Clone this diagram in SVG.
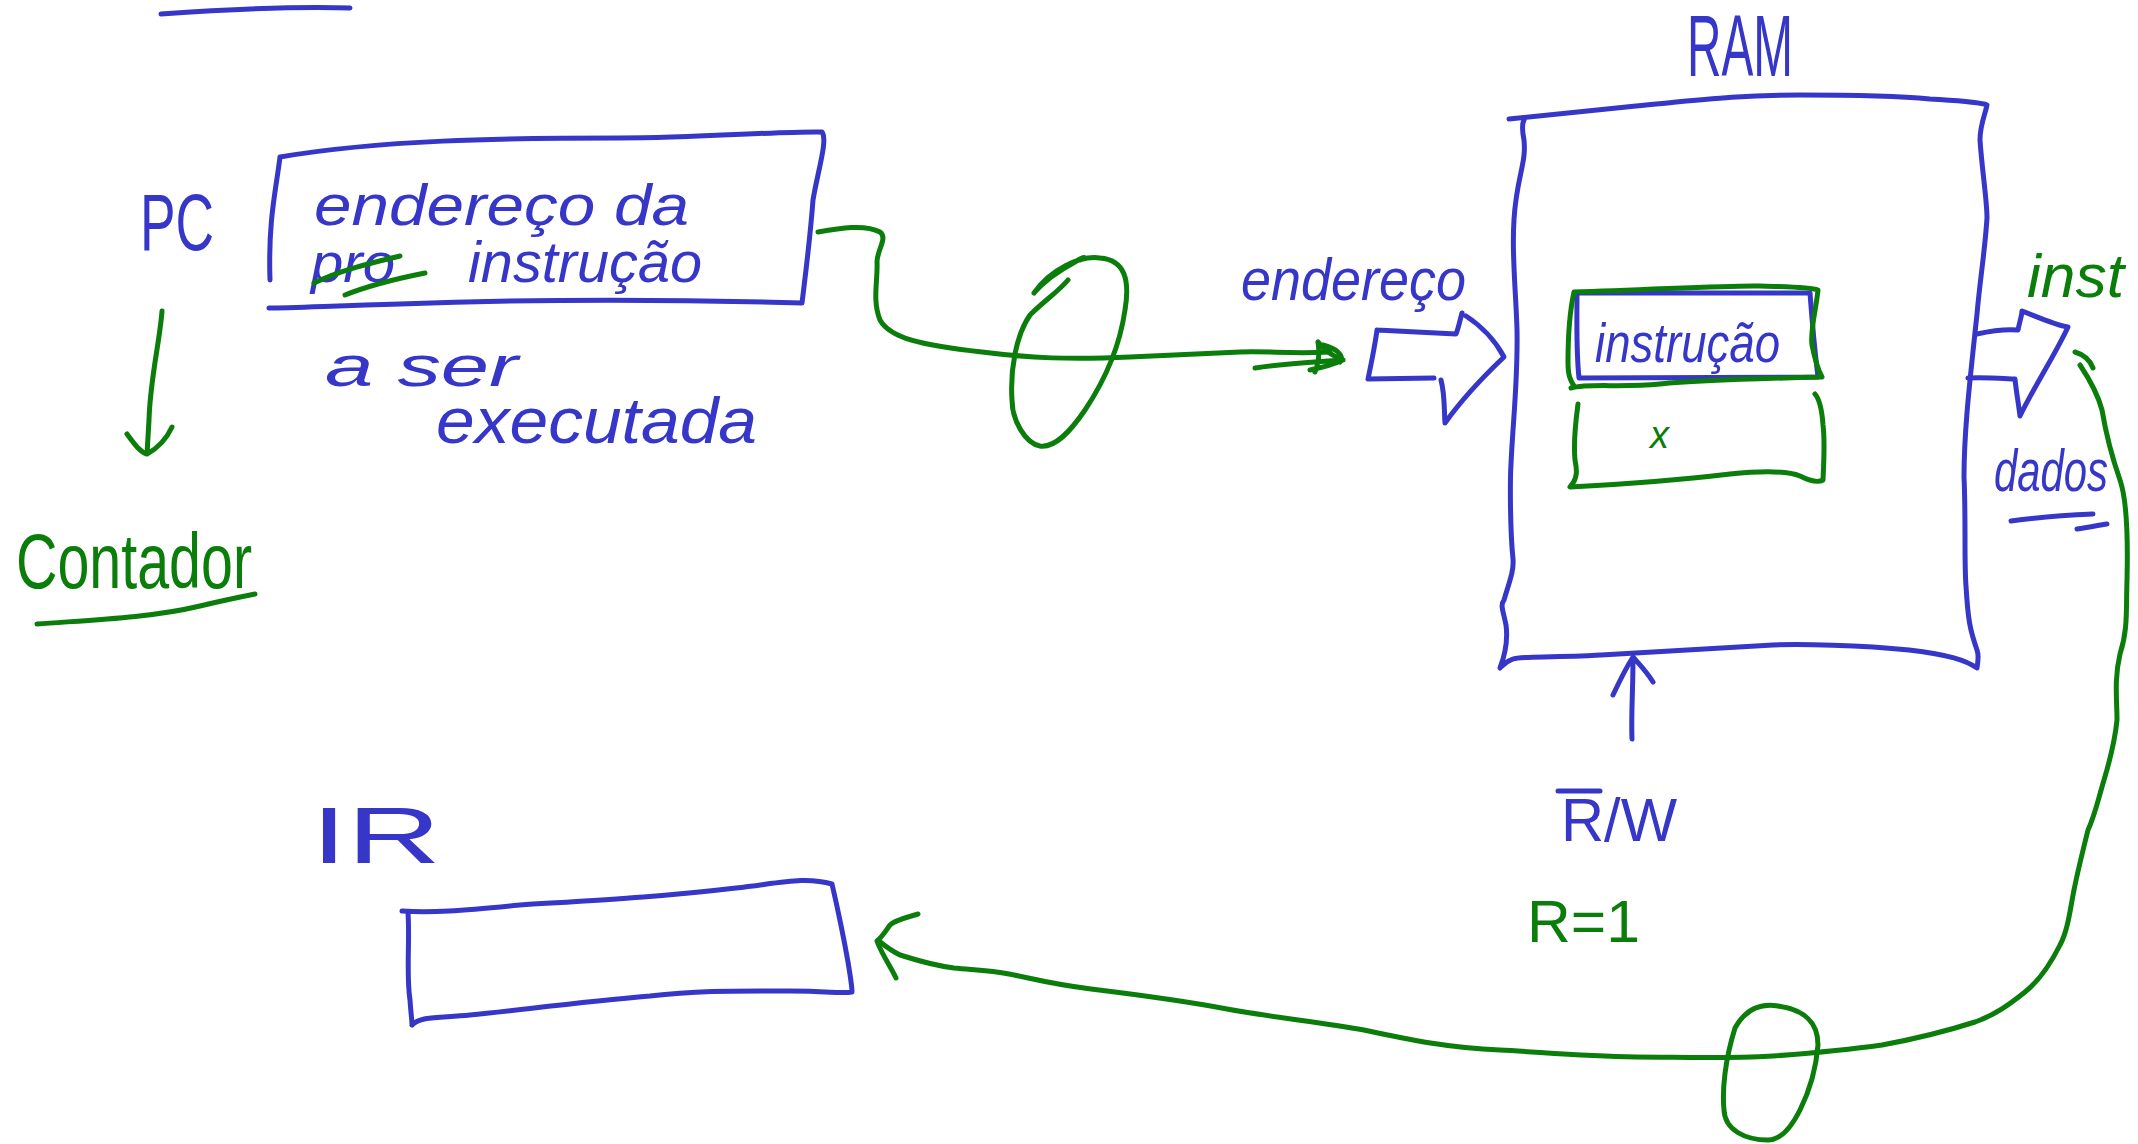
<svg xmlns="http://www.w3.org/2000/svg" width="2138" height="1144" viewBox="0 0 2138 1144">
<style>
.b{fill:none;stroke:#3636c8;stroke-width:5;stroke-linecap:round;stroke-linejoin:round}
.g{fill:none;stroke:#0a7d0a;stroke-width:5;stroke-linecap:round;stroke-linejoin:round}
.tb{fill:#3636c8;font-family:"Liberation Sans",Arial,sans-serif}
.tg{fill:#0a7d0a;font-family:"Liberation Sans",Arial,sans-serif}
</style>
<rect width="2138" height="1144" fill="#fff"/>
<path class="b" d="M161,14 C220,10 300,6 350,8"/>

<g id="pc">
<text class="tb" x="140" y="250" font-size="80" textLength="74" lengthAdjust="spacingAndGlyphs">PC</text>
<path class="b" d="M280,157 C380,140 500,138 620,138 C700,138 780,131 822,132 C828,140 818,170 813,200 C810,240 806,270 802,303 C700,300 560,298 400,304 C330,306 290,308 269,308 M280,157 C276,190 268,220 270,280"/>
<text class="tb" x="314" y="225" font-size="58" font-style="italic" textLength="375" lengthAdjust="spacingAndGlyphs">endereço da</text>
<text class="tb" x="311" y="282" font-size="55" font-style="italic" textLength="84" lengthAdjust="spacingAndGlyphs">pro</text>
<path class="g" d="M314,283 C340,270 375,262 400,256 M345,295 C370,285 400,278 425,273"/>
<text class="tb" x="468" y="282" font-size="58" font-style="italic" textLength="234" lengthAdjust="spacingAndGlyphs">instrução</text>
<text class="tb" x="325" y="386" font-size="58" font-style="italic" textLength="193" lengthAdjust="spacingAndGlyphs">a ser</text>
<text class="tb" x="436" y="443" font-size="64" font-style="italic" textLength="321" lengthAdjust="spacingAndGlyphs">executada</text>
</g>

<g id="contador">
<text class="tg" x="16" y="588" font-size="78" textLength="236" lengthAdjust="spacingAndGlyphs">Contador</text>
<path class="g" d="M37,624 C90,620 150,618 200,606 C225,600 245,596 255,594"/>
</g>

<g id="ram">
<text class="tb" x="1687" y="76" font-size="88" textLength="106" lengthAdjust="spacingAndGlyphs">RAM</text>
<path class="b" d="M1509,119 C1560,114 1600,110 1636,106 C1700,100 1740,95 1800,95 C1860,95 1909,97 1930,99 C1960,101 1980,102 1987,105 C1985,115 1980,125 1980,140 C1982,170 1987,200 1987,218 C1985,250 1980,280 1977,314 C1970,380 1964,430 1964,477 C1966,520 1964,560 1966,586 C1968,620 1970,630 1977,650 C1979,655 1978,662 1977,668 C1965,660 1950,655 1909,650 C1860,645 1800,644 1773,645 C1720,648 1660,652 1600,655 C1550,658 1520,656 1513,659 C1505,662 1502,666 1500,668 C1505,655 1508,640 1506,625 C1503,610 1500,605 1504,600 C1510,580 1514,570 1513,559 C1510,530 1510,480 1511,464 C1513,420 1518,380 1517,330 C1516,290 1510,240 1516,200 C1520,170 1526,160 1524,140 C1521,125 1523,122 1524,120"/>
<path class="b" d="M1577,293 L1810,293 M1577,293 C1577,320 1576,350 1579,378 L1818,377 M1810,293 C1812,320 1814,345 1818,377"/>
<path class="g" d="M1574,292 C1650,290 1730,285 1760,286 C1790,287 1810,287 1818,290 C1816,310 1810,330 1812,345 C1815,360 1818,370 1822,377 C1780,378 1700,380 1660,384 C1620,388 1590,383 1571,388 M1574,292 C1570,310 1568,340 1568,362 C1568,375 1570,380 1574,386"/>
<text class="tb" x="1595" y="362" font-size="55" font-style="italic" textLength="185" lengthAdjust="spacingAndGlyphs">instrução</text>
<path class="g" d="M1578,404 C1576,420 1573,440 1575,460 C1577,470 1578,478 1570,487 C1630,484 1680,480 1730,474 C1770,470 1790,472 1800,476 C1810,481 1818,483 1823,480 C1824,460 1825,440 1823,425 C1822,410 1820,400 1815,394"/>
<text class="tg" x="1650" y="448" font-size="38" font-style="italic">x</text>
</g>

<g id="addr-label">
<text class="tb" x="1241" y="300" font-size="60" font-style="italic" textLength="225" lengthAdjust="spacingAndGlyphs">endereço</text>
<path class="b" d="M1377,330 C1375,345 1372,360 1368,379 L1434,378 M1441,380 C1445,395 1444,410 1445,423 C1465,395 1485,375 1504,357 C1495,340 1480,325 1466,316 M1462,313 C1460,320 1458,330 1456,334 L1377,330"/>
</g>

<g id="out-label">
<text class="tg" x="2027" y="297" font-size="62" font-style="italic" textLength="97" lengthAdjust="spacingAndGlyphs">inst</text>
<path class="b" d="M1977,334 C1995,330 2005,329 2018,330 C2020,320 2022,315 2022,311 C2040,318 2055,325 2068,327 C2055,355 2035,385 2020,416 C2018,400 2016,390 2015,379 M2015,379 C1995,378 1980,377 1968,378"/>
<text class="tb" x="1994" y="491" font-size="60" font-style="italic" textLength="114" lengthAdjust="spacingAndGlyphs">dados</text>
<path class="b" d="M2011,521 C2040,517 2070,515 2093,514 M2077,529 C2090,527 2100,525 2107,524"/>
</g>

<g id="rw">
<text class="tb" x="1561" y="841" font-size="62" textLength="116" lengthAdjust="spacingAndGlyphs">R/W</text>
<path class="b" d="M1558,791 L1600,791"/>
<text class="tg" x="1527" y="942" font-size="60" textLength="113" lengthAdjust="spacingAndGlyphs">R=1</text>
</g>

<g id="ir">
<text class="tb" x="311" y="863" font-size="80" textLength="130" lengthAdjust="spacingAndGlyphs">IR</text>
<path class="b" d="M402,911 C430,913 460,911 520,905 C600,900 660,897 736,888 C780,883 805,876 832,884 C838,910 845,945 848,962 C851,980 852,988 852,992 C840,994 830,991 790,991 C740,991 700,990 650,996 C580,1002 520,1010 470,1015 C440,1018 420,1016 412,1025 M408,913 C410,940 406,975 410,1000 C411,1015 412,1020 412,1025"/>
</g>

<g id="connectors">
<path class="g" d="M162,311 C160,340 150,380 149,420 L147,454 M127,434 C135,445 140,452 147,454 C158,448 166,440 172,427"/>
<path class="g" d="M818,232 C840,228 865,224 880,232 C888,238 877,250 877,262 C878,280 872,300 880,320 C890,338 920,345 982,352 C1030,358 1070,360 1130,357 C1170,355 1200,354 1240,352 C1270,351 1290,354 1330,352"/>
<path class="g" d="M1255,368 C1280,364 1310,362 1343,360 M1318,342 C1325,350 1330,355 1343,360 C1330,366 1320,368 1310,370 M1318,342 C1320,355 1318,365 1315,372 M1323,345 C1335,348 1345,355 1340,362"/>
<path class="g" d="M1034,293 C1045,280 1060,270 1075,262 C1080,258 1090,255 1080,260 M1034,293 C1050,270 1080,255 1100,258 C1125,260 1130,280 1125,310 C1120,345 1105,380 1085,410 C1070,432 1055,448 1040,446 C1025,443 1012,420 1012,400 C1010,370 1016,335 1030,315 C1045,300 1058,292 1068,280"/>
<path class="b" d="M1632,739 C1631,715 1633,690 1633,660 M1613,695 C1620,680 1626,668 1633,657 C1640,665 1647,672 1653,682"/>
<path class="g" d="M2075,352 C2085,355 2090,360 2093,368 M2080,365 C2090,380 2098,395 2102,410 C2107,440 2113,460 2120,480 C2127,500 2128,540 2127,580 C2126,610 2128,630 2120,654 C2114,680 2117,700 2117,720 C2115,740 2110,760 2104,780 C2098,800 2095,815 2088,830 C2083,850 2078,870 2074,890 C2070,910 2068,930 2060,945 C2050,965 2040,980 2025,992 C2010,1004 1995,1015 1975,1022 C1950,1030 1920,1038 1882,1045 C1840,1051 1800,1054 1773,1056 C1720,1059 1680,1057 1636,1057 C1580,1056 1540,1052 1500,1050 C1450,1048 1410,1040 1364,1030 C1320,1022 1270,1017 1227,1009 C1180,1000 1140,995 1091,989 C1050,984 1030,978 1009,974 C990,970 975,970 954,968 C930,965 910,958 900,955 C890,950 884,945 879,941 M918,914 C905,918 895,920 890,925 C885,932 882,937 877,941 C882,955 890,965 896,978"/>
<path class="g" d="M1735,1028 C1745,1010 1760,1003 1778,1006 C1805,1010 1818,1022 1818,1045 C1816,1070 1810,1090 1800,1110 C1790,1130 1780,1140 1768,1140 C1745,1140 1725,1130 1724,1110 C1722,1090 1725,1060 1735,1028"/>
</g>
</svg>
